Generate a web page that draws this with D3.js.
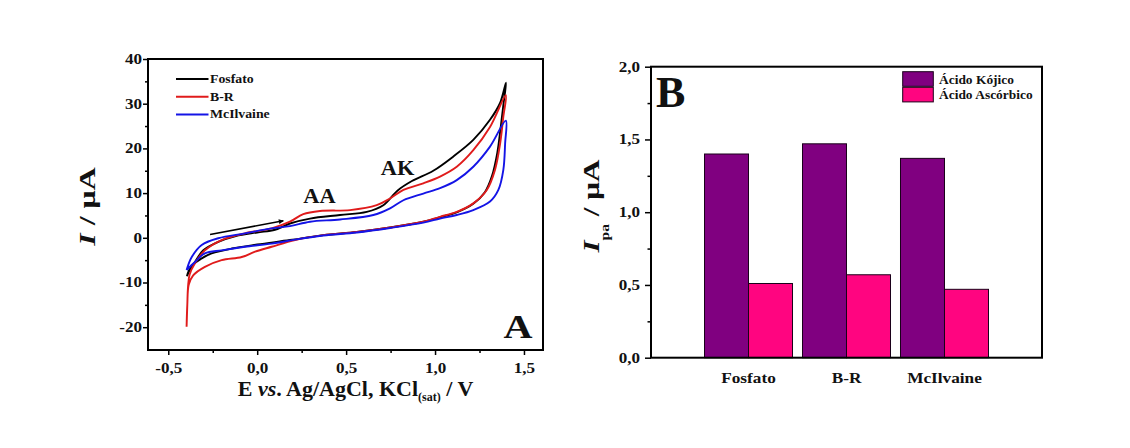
<!DOCTYPE html>
<html><head><meta charset="utf-8">
<script src="https://cdn.jsdelivr.net/npm/d3@7"></script>
<style>
body{margin:0;background:#fff}
svg{display:block}
text{font-family:"Liberation Serif","Times New Roman",serif;font-weight:bold;fill:#111}
</style>
</head><body>
<svg id="c" width="1130" height="448"></svg>
<script>
// ---------- Panel A data (cyclic voltammograms, E / V vs I / uA) ----------
const cvSeries = ["Fosfato", "B-R", "McIlvaine"];
const cvColors = ["#000000", "#e01b1b", "#1414e6"];
const fosfatoCV = [
  [-0.395,-8.6],[-0.385,-7.4],[-0.35,-5.4],[-0.303,-2.8],[-0.219,-0.9],[-0.12,0.4],[0.0,1.2],
  [0.1,1.8],[0.184,3.2],[0.297,4.3],[0.466,5.1],[0.616,5.8],[0.709,7.3],[0.79,10.6],
  [0.87,12.7],[0.99,15.0],[1.103,18.2],[1.215,21.9],[1.309,26.4],[1.365,30.1],[1.399,34.7],
  [1.385,30.0],[1.37,25.0],[1.35,19.0],[1.32,13.8],[1.28,10.2],[1.215,7.6],[1.122,5.7],
  [1.028,4.6],[0.934,3.6],[0.747,2.3],[0.56,1.3],[0.372,0.6],[0.184,-0.5],[0.0,-1.5],
  [-0.143,-2.4],[-0.256,-3.5],[-0.312,-4.6],[-0.36,-6.0],[-0.395,-8.6]
];
const brCV = [
  [-0.397,-19.9],[-0.393,-15.0],[-0.389,-11.0],[-0.38,-8.2],[-0.35,-5.7],[-0.294,-2.8],
  [-0.2,-0.5],[-0.069,1.0],[0.081,2.1],[0.184,3.6],[0.259,5.3],[0.353,6.0],[0.522,6.2],
  [0.672,7.3],[0.747,8.8],[0.822,10.7],[0.934,12.2],[1.028,13.7],[1.122,15.9],[1.215,19.6],
  [1.309,24.8],[1.398,31.9],[1.384,27.1],[1.366,21.1],[1.337,15.2],[1.291,10.7],[1.215,7.7],
  [1.122,5.8],[1.028,4.7],[0.934,3.6],[0.747,2.3],[0.56,1.3],[0.372,0.6],[0.213,-0.5],
  [0.081,-2.0],[-0.012,-3.1],[-0.087,-4.3],[-0.2,-5.0],[-0.294,-6.5],[-0.36,-8.4],
  [-0.385,-10.5],[-0.393,-15.0],[-0.397,-19.9]
];
const mcilvaineCV = [
  [-0.397,-7.2],[-0.368,-4.3],[-0.312,-1.6],[-0.219,-0.1],[-0.069,1.0],[0.081,2.1],
  [0.184,2.6],[0.297,3.6],[0.466,4.1],[0.653,5.1],[0.747,6.6],[0.822,8.4],[0.934,9.9],
  [1.028,11.1],[1.122,12.9],[1.215,15.9],[1.309,20.4],[1.398,26.2],[1.394,21.1],[1.384,15.2],
  [1.356,10.7],[1.309,8.1],[1.215,6.2],[1.122,5.1],[1.028,4.3],[0.934,3.4],[0.747,2.2],
  [0.56,1.2],[0.372,0.5],[0.213,-0.4],[0.081,-1.3],[-0.069,-2.0],[-0.2,-2.8],[-0.294,-3.5],
  [-0.35,-5.4],[-0.397,-7.2]
];
const cvXTicks = [-0.5, 0, 0.5, 1.0, 1.5];
const cvXMinor = [-0.25, 0.25, 0.75, 1.25];
const cvYTicks = [-20, -10, 0, 10, 20, 30, 40];
const cvYMinor = [-15, -5, 5, 15, 25, 35];
const cvAnnotations = [{label:"AA", E:0.35, I:7.7}, {label:"AK", E:0.789, I:14.0}];
const scanArrow = [[-0.265, 0.76], [0.147, 3.8]];

// ---------- Panel B data (Ipa / uA) ----------
const barCategories = ["Fosfato", "B-R", "McIlvaine"];
const barSeries = ["Ácido Kójico", "Ácido Ascórbico"];
const barColors = ["#800080", "#ff0580"];
const kojicoValues = [1.40, 1.47, 1.37];
const ascorbicoValues = [0.51, 0.57, 0.47];
const barYTicks = [0, 0.5, 1.0, 1.5, 2.0];
const barYMinor = [0.25, 0.75, 1.25, 1.75];

// ---------- helpers ----------
const svg = d3.select("#c");
const comma = d => d3.format(".1f")(d).replace(".", ",").replace("\u2212", "-");
const intFmt = d => d3.format("d")(d).replace("\u2212", "-");
const SX = 1.22; // horizontal glyph stretch of reference font

// =============== Panel A ===============
const A = {l:148, r:543, t:59, b:350};
const xA = d3.scaleLinear().domain([-0.614, 1.607]).range([A.l, A.r]);
const yA = d3.scaleLinear().domain([-25.1, 40]).range([A.b, A.t]);

svg.append("clipPath").attr("id","clipA").append("rect")
  .attr("x",A.l).attr("y",A.t).attr("width",A.r-A.l).attr("height",A.b-A.t);

const gA = svg.append("g");
const line = d3.line().x(d=>xA(d[0])).y(d=>yA(d[1])).curve(d3.curveCatmullRom.alpha(0.5));
[fosfatoCV, brCV, mcilvaineCV].forEach((data,i)=>{
  gA.append("path").attr("clip-path","url(#clipA)").attr("d", line(data))
    .attr("fill","none").attr("stroke",cvColors[i]).attr("stroke-width",1.9)
    .attr("stroke-linejoin","round");
});

// arrow
svg.append("defs").append("marker").attr("id","ah").attr("viewBox","0 0 10 10")
  .attr("refX",9).attr("refY",5).attr("markerWidth",7).attr("markerHeight",5)
  .attr("markerUnits","userSpaceOnUse").attr("orient","auto")
  .append("path").attr("d","M0,0L10,5L0,10Z").attr("fill","#000");
gA.append("line").attr("x1",xA(scanArrow[0][0])).attr("y1",yA(scanArrow[0][1]))
  .attr("x2",xA(scanArrow[1][0])).attr("y2",yA(scanArrow[1][1]))
  .attr("stroke","#000").attr("stroke-width",1.5).attr("marker-end","url(#ah)");

// peak labels
cvAnnotations.forEach(a=>{
  gA.append("g").attr("transform",`translate(${xA(a.E)},${yA(a.I)}) scale(1.12,1)`)
    .append("text").attr("text-anchor","middle").attr("font-size",20).text(a.label);
});

// axes A
const axBA = svg.append("g").attr("transform",`translate(0,${A.b})`)
  .call(d3.axisBottom(xA).tickValues(cvXTicks).tickSize(5).tickSizeOuter(0).tickFormat(comma));
axBA.selectAll(".tick text").attr("y",23).attr("dy",0).attr("font-size",14)
  .attr("transform",`scale(${SX},1)`);
const axBAm = svg.append("g").attr("transform",`translate(0,${A.b})`)
  .call(d3.axisBottom(xA).tickValues(cvXMinor).tickSize(3).tickSizeOuter(0).tickFormat(""));
const axLA = svg.append("g").attr("transform",`translate(${A.l},0)`)
  .call(d3.axisLeft(yA).tickValues(cvYTicks).tickSize(5).tickSizeOuter(0).tickFormat(intFmt));
axLA.selectAll(".tick text").attr("x",-6/SX).attr("font-size",14)
  .attr("transform",`scale(${SX},1)`);
const axLAm = svg.append("g").attr("transform",`translate(${A.l},0)`)
  .call(d3.axisLeft(yA).tickValues(cvYMinor).tickSize(3).tickSizeOuter(0).tickFormat(""));
[axBA,axBAm,axLA,axLAm].forEach(g=>{
  g.select(".domain").remove();
  g.selectAll(".tick line").attr("stroke","#000").attr("stroke-width",1.5);
});
svg.append("rect").attr("x",A.l).attr("y",A.t).attr("width",A.r-A.l).attr("height",A.b-A.t)
  .attr("fill","none").attr("stroke","#000").attr("stroke-width",2);

// axis titles A
const xt = svg.append("text").attr("x",(A.l+A.r)/2 + 10).attr("y",396)
  .attr("text-anchor","middle").attr("font-size",22);
xt.append("tspan").text("E ");
xt.append("tspan").attr("font-style","italic").text("vs");
xt.append("tspan").text(". Ag/AgCl, KCl");
xt.append("tspan").attr("font-size",12).attr("dy",5).text("(sat)");
xt.append("tspan").attr("dy",-5).text(" / V");

const yt = svg.append("g").attr("transform","translate(95,206.5) rotate(-90) scale(1.33,1)")
  .append("text").attr("text-anchor","middle").attr("font-size",24);
yt.append("tspan").attr("font-style","italic").text("I");
yt.append("tspan").text(" / μA");

// legend A
cvSeries.forEach((s,i)=>{
  const y = 79 + i*17.7;
  svg.append("line").attr("x1",176).attr("x2",208.5).attr("y1",y).attr("y2",y)
    .attr("stroke",cvColors[i]).attr("stroke-width",2);
  svg.append("g").attr("transform",`translate(210,${y+4}) scale(1.2,1)`)
    .append("text").attr("font-size",11.5).text(s);
});

// panel letter
svg.append("g").attr("transform","translate(518,338) scale(1.18,1)")
  .append("text").attr("text-anchor","middle").attr("font-size",34).text("A");

// =============== Panel B ===============
const B = {l:651, r:1042, t:66.7, b:357.7};
const x0 = d3.scaleBand().domain(barCategories).range([B.l, B.r]).paddingInner(0.102).paddingOuter(0.546);
const x1 = d3.scaleBand().domain(barSeries).range([0, x0.bandwidth()]).padding(0);
const yB = d3.scaleLinear().domain([0, 2]).range([B.b, B.t]);
const barData = [kojicoValues, ascorbicoValues];

const gB = svg.append("g");
barCategories.forEach((c,ci)=>{
  barSeries.forEach((s,si)=>{
    const v = barData[si][ci];
    gB.append("rect").attr("x",x0(c)+x1(s)).attr("width",x1.bandwidth())
      .attr("y",yB(v)).attr("height",yB(0)-yB(v))
      .attr("fill",barColors[si]).attr("stroke","#1a001a").attr("stroke-width",1);
  });
});

const axLB = svg.append("g").attr("transform",`translate(${B.l},0)`)
  .call(d3.axisLeft(yB).tickValues(barYTicks).tickSize(6).tickSizeOuter(0).tickFormat(comma));
axLB.selectAll(".tick text").attr("x",-11/SX).attr("font-size",14)
  .attr("transform",`scale(${SX},1)`);
const axLBm = svg.append("g").attr("transform",`translate(${B.l},0)`)
  .call(d3.axisLeft(yB).tickValues(barYMinor).tickSize(3.5).tickSizeOuter(0).tickFormat(""));
const axBB = svg.append("g").attr("transform",`translate(0,${B.b})`)
  .call(d3.axisBottom(x0).tickSize(0).tickSizeOuter(0));
axBB.selectAll(".tick text").attr("y",25.5).attr("dy",0).attr("font-size",15)
  .attr("transform","scale(1.15,1)");
[axLB,axLBm,axBB].forEach(g=>{
  g.select(".domain").remove();
  g.selectAll(".tick line").attr("stroke","#000").attr("stroke-width",1.5);
});
svg.append("rect").attr("x",B.l).attr("y",B.t).attr("width",B.r-B.l).attr("height",B.b-B.t)
  .attr("fill","none").attr("stroke","#000").attr("stroke-width",2);

// y title B
const ytB = svg.append("g").attr("transform","translate(599,206) rotate(-90) scale(1.3,1)")
  .append("text").attr("text-anchor","middle").attr("font-size",24);
ytB.append("tspan").attr("font-style","italic").text("I");
ytB.append("tspan").attr("font-size",12).attr("dy",10).text("pa");
ytB.append("tspan").attr("dy",-10).text(" / μA");

// legend B
barSeries.forEach((s,i)=>{
  const y = 71.7 + i*15.6;
  svg.append("rect").attr("x",902.7).attr("y",y).attr("width",30.6).attr("height",14.6)
    .attr("fill",barColors[i]).attr("stroke","#1a001a").attr("stroke-width",1);
  svg.append("g").attr("transform",`translate(939,${y+11.8}) scale(1.12,1)`)
    .append("text").attr("font-size",12).text(s);
});

// panel letter B
svg.append("text").attr("x",656).attr("y",107).attr("font-size",44).text("B");
</script>
</body></html>
